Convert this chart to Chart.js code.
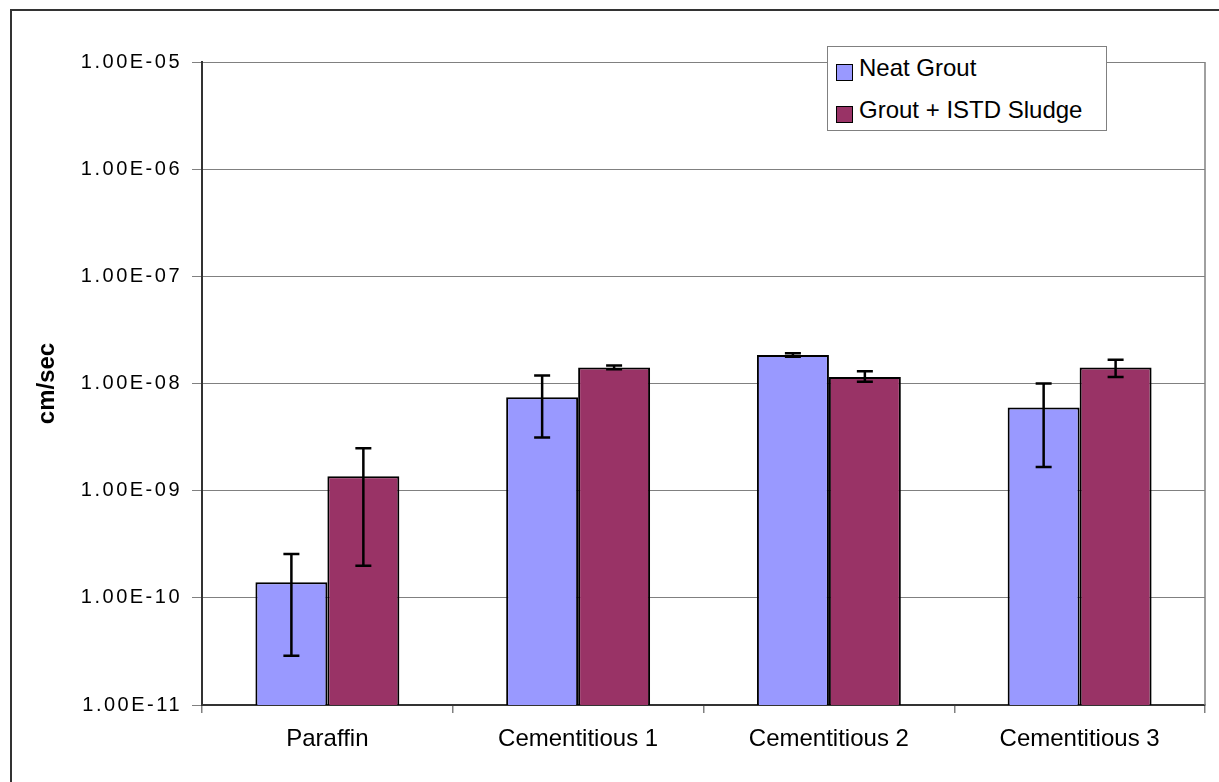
<!DOCTYPE html>
<html>
<head>
<meta charset="utf-8">
<script src="https://cdn.jsdelivr.net/npm/chart.js@4/dist/chart.umd.min.js"></script>
<style>
    html, body { margin: 0; padding: 0; background: #fff; overflow: hidden; }
    #wrap { position: relative; width: 1219px; height: 782px; }
    #frame { position: absolute; left: 10px; top: 9px; width: 1300px; height: 900px; border: 2px solid #333; pointer-events: none; }
    #legend { position: absolute; left: 827px; top: 46px; width: 278px; height: 83px; border: 1.5px solid #808080; background: #fff;
              font: 24px "Liberation Sans", Arial, sans-serif; color: #000; }
    #legend .row { height: 42px; display: flex; align-items: center; padding-left: 8px; }
    #legend .box { width: 15px; height: 15px; border: 1.5px solid #000; margin-right: 6px; position: relative; top: 4px; }
</style>
</head>
<body>
<div id="wrap">
    <canvas id="chart" width="1219" height="782"></canvas>
    <div id="legend"></div>
    <div id="frame"></div>
</div>
<script>
const categories = ["Paraffin", "Cementitious 1", "Cementitious 2", "Cementitious 3"];
const seriesNames = ["Neat Grout", "Grout + ISTD Sludge"];
const seriesColors = ["#9999FF", "#993366"];

const neatGrout = [1.40e-10, 7.45e-9, 1.84e-8, 5.97e-9];
const neatLow = [2.88e-11, 3.14e-9, 1.78e-8, 1.66e-9];
const neatHigh = [2.57e-10, 1.19e-8, 1.92e-8, 1.0e-8];

const sludgeGrout = [1.36e-9, 1.41e-8, 1.15e-8, 1.41e-8];
const sludgeLow = [1.99e-10, 1.36e-8, 1.04e-8, 1.15e-8];
const sludgeHigh = [2.49e-9, 1.47e-8, 1.30e-8, 1.67e-8];

const yTicks = [1e-11, 1e-10, 1e-9, 1e-8, 1e-7, 1e-6, 1e-5];

const errLow = [neatLow, sludgeLow];
const errHigh = [neatHigh, sludgeHigh];

function sci(v) {
    const parts = v.toExponential(2).toUpperCase().split("E");
    const e = parseInt(parts[1], 10);
    const ee = String(Math.abs(e)).padStart(2, "0");
    return parts[0] + "E" + (e < 0 ? "-" : "+") + ee;
}

Chart.defaults.font.family = '"Liberation Sans", Arial, sans-serif';
Chart.defaults.color = "#000";

// error bars, placed with the chart's own scales
const errorBars = {
    id: "errorBars",
    afterDatasetsDraw(chart) {
        const ctx = chart.ctx;
        const y = chart.scales.y;
        ctx.save();
        ctx.strokeStyle = "#000";
        ctx.lineWidth = 2.5;
        chart.data.datasets.forEach((ds, d) => {
            const meta = chart.getDatasetMeta(d);
            meta.data.forEach((bar, i) => {
                const yHi = y.getPixelForValue(errHigh[d][i]);
                const yLo = y.getPixelForValue(errLow[d][i]);
                ctx.beginPath();
                ctx.moveTo(bar.x, yHi); ctx.lineTo(bar.x, yLo);
                ctx.moveTo(bar.x - 8, yHi); ctx.lineTo(bar.x + 8, yHi);
                ctx.moveTo(bar.x - 8, yLo); ctx.lineTo(bar.x + 8, yLo);
                ctx.stroke();
            });
        });
        ctx.restore();
    }
};

// plot area right edge + wider spacing on the value labels
const plotFrame = {
    id: "plotFrame",
    beforeDraw(chart) {
        const s = chart.scales.y;
        if (!s._spaced) {
            const orig = s.drawLabels.bind(s);
            s.drawLabels = function (area) {
                chart.ctx.save();
                chart.ctx.letterSpacing = "2.5px";
                orig(area);
                chart.ctx.restore();
            };
            s._spaced = true;
        }
    },
    afterDraw(chart) {
        const a = chart.chartArea;
        const ctx = chart.ctx;
        ctx.save();
        ctx.strokeStyle = "#808080";
        ctx.lineWidth = 1.5;
        ctx.beginPath();
        ctx.moveTo(a.right, a.top);
        ctx.lineTo(a.right, a.bottom);
        ctx.stroke();
        ctx.restore();
    }
};

const chart = new Chart(document.getElementById("chart"), {
    type: "bar",
    data: {
        labels: categories,
        datasets: [
            { label: seriesNames[0], data: neatGrout, backgroundColor: seriesColors[0], borderColor: "#000", borderWidth: 2 },
            { label: seriesNames[1], data: sludgeGrout, backgroundColor: seriesColors[1], borderColor: "#000", borderWidth: 2 }
        ]
    },
    options: {
        responsive: false,
        animation: false,
        categoryPercentage: 0.574,
        barPercentage: 1.0,
        layout: { padding: { left: 20, top: 62, right: 14, bottom: 0 } },
        plugins: { legend: { display: false }, tooltip: { enabled: false } },
        scales: {
            x: {
                grid: { offset: true, drawOnChartArea: false, tickLength: 8, color: "#808080", lineWidth: 1.5 },
                border: { color: "#333", width: 2 },
                ticks: { font: { size: 24 }, padding: 12, maxRotation: 0 },
                afterFit(scale) { scale.height = 77; }
            },
            y: {
                type: "logarithmic",
                min: 1e-11,
                max: 1e-5,
                afterBuildTicks(scale) { scale.ticks = yTicks.map(v => ({ value: v })); },
                ticks: { font: { size: 20 }, padding: 10, callback: v => sci(v) },
                grid: { color: "#808080", lineWidth: 1, tickLength: 10 },
                border: { color: "#333", width: 2 },
                title: { display: true, text: "cm/sec", font: { size: 24, weight: "bold" }, padding: { top: 13, bottom: 0 } },
                afterFit(scale) { scale.width = 182; }
            }
        }
    },
    plugins: [errorBars, plotFrame]
});

document.getElementById("legend").innerHTML = chart.data.datasets.map(ds => `
    <div class="row"><span class="box" style="background:${ds.backgroundColor}"></span><span>${ds.label}</span></div>
`).join("");
</script>
</body>
</html>
